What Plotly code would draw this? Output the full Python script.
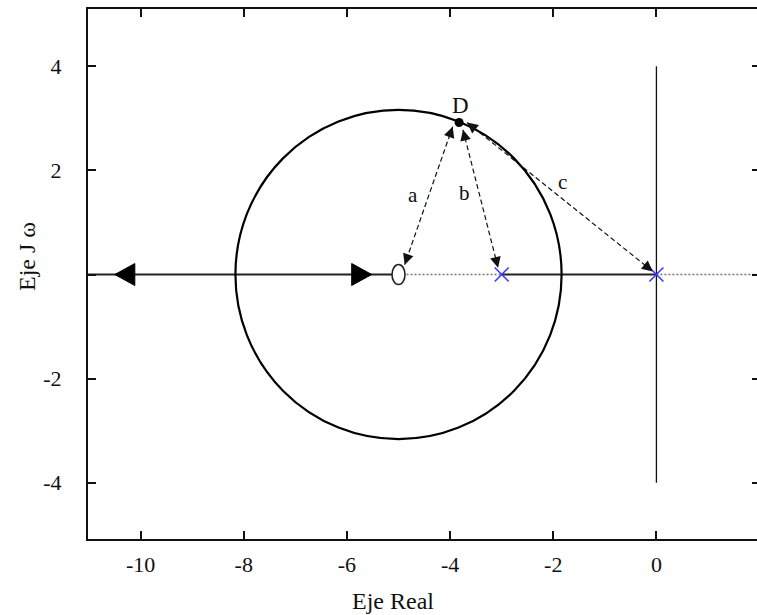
import math
import plotly.graph_objects as go

# ---------------- data ----------------
x_ticks = [-10, -8, -6, -4, -2, 0]
x_tick_labels = ["-10", "-8", "-6", "-4", "-2", "0"]
y_ticks = [-4, -2, 0, 2, 4]
y_tick_labels = ["-4", "-2", "", "2", "4"]

poles_x = [-3, 0]
poles_y = [0, 0]
zero_x = [-5]
zero_y = [0]

circle_center = [-5.0, 0.0]
circle_radius = [3.162]

# solid locus segments on the real axis
solid_seg_x = [[-11.3, -5.0], [-3.0, 0.0]]
# dotted real-axis segments
dotted_seg_x = [[-5.0, -3.0], [0.0, 2.2]]

imag_axis_x = [0, 0]
imag_axis_y = [-4, 4]

arrow_tips_x = [-10.5, -5.52]
arrow_dir = ["left", "right"]

point_D = [-3.825, 2.92]
label_D = [-3.79, 3.24]

# dashed double arrows (start, end)
vec_names = ["a", "b", "c"]
vec_start_x = [-3.95, -3.75, -3.67]
vec_start_y = [2.84, 2.78, 2.92]
vec_end_x = [-4.88, -3.07, -0.07]
vec_end_y = [0.19, 0.13, 0.06]
vec_label_x = [-4.72, -3.73, -1.815]
vec_label_y = [1.52, 1.57, 1.77]

# ---------------- figure ----------------
XR = [-11.02, 1.95]
YR = [-5.08, 5.10]
W, H = 757, 615
ML, MR, MT, MB = 88, 0, 9, 76
pxx = (W - ML - MR) / (XR[1] - XR[0])
pxy = (H - MT - MB) / (YR[1] - YR[0])

FONT = "Liberation Serif, Times New Roman, serif"
INK = "#111111"

fig = go.Figure()

# solid real-axis locus
for seg in solid_seg_x:
    fig.add_trace(go.Scatter(x=seg, y=[0, 0], mode="lines",
                             line=dict(color="#222222", width=2.2),
                             hoverinfo="skip", showlegend=False))
# dotted real-axis parts
for seg in dotted_seg_x:
    fig.add_trace(go.Scatter(x=seg, y=[0, 0], mode="lines",
                             line=dict(color="#777777", width=1.6, dash="2px,2px"),
                             hoverinfo="skip", showlegend=False))
# imaginary axis
fig.add_trace(go.Scatter(x=imag_axis_x, y=imag_axis_y, mode="lines",
                         line=dict(color=INK, width=1.3),
                         hoverinfo="skip", showlegend=False))

# dashed vectors
for i in range(len(vec_names)):
    fig.add_trace(go.Scatter(x=[vec_start_x[i], vec_end_x[i]],
                             y=[vec_start_y[i], vec_end_y[i]],
                             mode="lines",
                             line=dict(color=INK, width=1.2, dash="5px,3px"),
                             hoverinfo="skip", showlegend=False))

# poles
fig.add_trace(go.Scatter(x=poles_x, y=poles_y, mode="markers",
                         marker=dict(symbol="x-thin", size=14,
                                     line=dict(color="#3a3aff", width=1.6)),
                         hoverinfo="skip", showlegend=False))
# point D
fig.add_trace(go.Scatter(x=[point_D[0]], y=[point_D[1]], mode="markers",
                         marker=dict(symbol="circle", size=9, color="black"),
                         hoverinfo="skip", showlegend=False))

# invisible trace for the right-hand tick axis
fig.add_trace(go.Scatter(x=[None], y=[None], yaxis="y2", mode="markers",
                         hoverinfo="skip", showlegend=False))

shapes = []
# root-locus circle
shapes.append(dict(type="circle", xref="x", yref="y",
                   x0=circle_center[0] - circle_radius[0],
                   x1=circle_center[0] + circle_radius[0],
                   y0=circle_center[1] - circle_radius[0],
                   y1=circle_center[1] + circle_radius[0],
                   line=dict(color="black", width=2.2), layer="above"))
# zero (small ellipse)
for zx, zy in zip(zero_x, zero_y):
    shapes.append(dict(type="circle", xref="x", yref="y",
                       xsizemode="pixel", ysizemode="pixel",
                       xanchor=zx, yanchor=zy,
                       x0=-6.5, x1=6.5, y0=-10, y1=10,
                       fillcolor="white",
                       line=dict(color="#222222", width=1.6), layer="above"))
# triangular arrowheads on the real axis
for tx, d in zip(arrow_tips_x, arrow_dir):
    if d == "left":
        path = "M 0,0 L 20,11 L 20,-11 Z"
    else:
        path = "M 0,0 L -20,11 L -20,-11 Z"
    shapes.append(dict(type="path", xref="x", yref="y",
                       xsizemode="pixel", ysizemode="pixel",
                       xanchor=tx, yanchor=0, path=path,
                       fillcolor="black", line=dict(color="black", width=1),
                       layer="above"))

annotations = []
# arrowheads of dashed vectors
def head(px, py, qx, qy):
    dx = (qx - px) * pxx
    dy = -(qy - py) * pxy
    n = math.hypot(dx, dy)
    L = 12.0
    return dict(x=px, y=py, xref="x", yref="y", ax=dx / n * L, ay=dy / n * L,
                axref="pixel", ayref="pixel", text="", showarrow=True,
                arrowhead=2, arrowsize=1.8, arrowwidth=1.2, arrowcolor=INK,
                standoff=0)

for i in range(len(vec_names)):
    annotations.append(head(vec_start_x[i], vec_start_y[i], vec_end_x[i], vec_end_y[i]))
    annotations.append(head(vec_end_x[i], vec_end_y[i], vec_start_x[i], vec_start_y[i]))
    annotations.append(dict(x=vec_label_x[i], y=vec_label_y[i], xref="x", yref="y",
                            text=vec_names[i], showarrow=False,
                            font=dict(family=FONT, size=21, color=INK)))

annotations.append(dict(x=label_D[0], y=label_D[1], xref="x", yref="y",
                        text="D", showarrow=False,
                        font=dict(family=FONT, size=23, color=INK)))

# axis titles
annotations.append(dict(x=(392.5 - ML) / (W - ML - MR), y=-(601 - (H - MB)) / (H - MT - MB),
                        xref="paper", yref="paper", text="Eje Real", showarrow=False,
                        xanchor="center", yanchor="middle",
                        font=dict(family=FONT, size=24, color=INK)))
annotations.append(dict(x=(27 - ML) / (W - ML - MR), y=((H - MB) - 257) / (H - MT - MB),
                        xref="paper", yref="paper", text="Eje J ω", showarrow=False,
                        textangle=-90, xanchor="center", yanchor="middle",
                        font=dict(family=FONT, size=24, color=INK)))

axis_common = dict(showgrid=False, zeroline=False, ticks="inside", ticklen=8,
                   tickwidth=1.5, tickcolor=INK, linecolor=INK, linewidth=2,
                   showline=True,
                   tickfont=dict(family=FONT, size=22, color=INK))

fig.update_layout(
    width=W, height=H,
    margin=dict(l=ML, r=MR, t=MT, b=MB),
    paper_bgcolor="white", plot_bgcolor="white",
    showlegend=False,
    xaxis=dict(range=XR, tickvals=x_ticks, ticktext=x_tick_labels,
               mirror="ticks", ticklabelstandoff=5, **axis_common),
    yaxis=dict(range=YR, tickvals=y_ticks, ticktext=y_tick_labels,
               mirror=False, ticklabelstandoff=20, **axis_common),
    yaxis2=dict(range=YR, overlaying="y", side="right", tickvals=y_ticks,
                showticklabels=False, showgrid=False, zeroline=False,
                showline=False, ticks="inside", ticklen=5, tickwidth=1.5,
                tickcolor=INK),
    shapes=shapes,
    annotations=annotations,
)

fig.write_html(
    "out.html",
    config={"displayModeBar": False},
    post_script="document.body.style.margin='0';document.body.style.padding='0';"
                "document.body.style.overflow='hidden';",
)
